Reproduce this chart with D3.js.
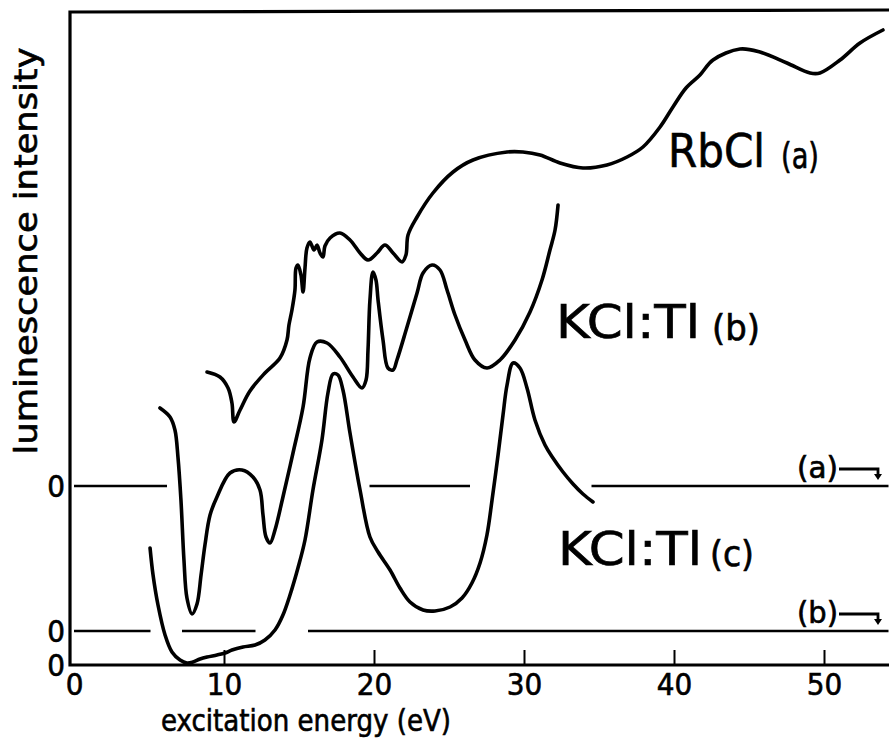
<!DOCTYPE html>
<html>
<head>
<meta charset="utf-8">
<script src="https://cdn.jsdelivr.net/npm/d3@7"></script>
<style>
  html, body { margin: 0; padding: 0; background: #fff; }
  svg text { font-family: "DejaVu Sans Condensed", "DejaVu Sans", sans-serif; fill: #000; stroke: #000; stroke-width: 0.6; }
</style>
</head>
<body>
<div id="chart"></div>
<script>
const width = 889;
const height = 738;

// excitation energy (eV) ticks
const xTicks = [0, 10, 20, 30, 40, 50];

// RbCl (a), intensity above its own zero line
const energyA = [8.87, 9.73, 10.27, 10.53, 10.67, 11.07, 11.73, 12.73, 13.73, 14.2, 14.33, 14.53, 14.73, 14.8, 14.93,
  15.13, 15.27, 15.4, 15.53, 15.73, 16.0, 16.2, 16.4, 16.6, 16.73, 17.07, 17.73, 18.4, 19.07, 19.6, 20.2, 20.73,
  21.27, 21.87, 22.13, 22.27, 22.87, 23.93, 25.27, 26.6, 28.87, 29.93, 31.07, 32.4, 33.93, 35.53, 36.87, 37.93,
  39.07, 39.93, 40.8, 41.73, 42.6, 44.4, 45.73, 47.53, 49.07, 49.73, 51.07, 52.4, 53.93];
const intensityA = [114, 109, 98, 83, 64, 76, 95, 113, 128, 146, 161, 176, 196, 218, 221,
  211, 194, 218, 238, 244, 236, 241, 233, 229, 240, 248, 253, 246, 233, 226, 233, 241,
  233, 224, 231, 251, 269, 293, 314, 326, 334, 334, 331, 323, 318, 321, 329, 339,
  359, 379, 398, 411, 426, 437, 434, 423, 413, 413, 426, 443, 456];

// KCl:Tl (b)
const energyB = [5.73, 6.4, 6.73, 6.93, 7.13, 7.33, 7.53, 7.87, 8.2, 8.47, 8.73, 9.07, 9.53, 10.4, 11.2, 11.93,
  12.4, 12.6, 12.8, 13.07, 13.4, 13.93, 14.6, 15.27, 15.73, 16.2, 16.87, 17.73, 18.6, 19.2, 19.47, 19.6, 19.73,
  19.93, 20.13, 20.27, 20.6, 20.93, 21.27, 21.53, 22.2, 22.87, 23.27, 23.87, 24.4, 24.87, 25.4, 26.07, 26.73,
  27.53, 28.4, 29.4, 30.4, 31.2, 31.73, 32.07, 32.27];
const intensityB = [223, 214, 201, 174, 131, 71, 33, 17, 27, 56, 86, 116, 134, 158, 161, 154,
  141, 116, 94, 88, 101, 134, 178, 224, 273, 289, 288, 274, 254, 243, 251, 281, 331,
  359, 351, 331, 291, 263, 261, 271, 304, 338, 358, 366, 361, 341, 316, 291, 271,
  263, 271, 291, 319, 351, 381, 401, 426];

// KCl:Tl (c)
const energyC = [5.07, 5.27, 5.6, 6.07, 6.53, 7.07, 7.53, 7.93, 8.4, 8.87, 9.53, 10.07, 10.53, 11.27, 12.07,
  12.73, 13.4, 13.93, 14.4, 14.93, 15.4, 15.93, 16.53, 16.93, 17.27, 17.6, 17.93, 18.4, 19.07, 19.73, 20.27,
  21.07, 21.73, 22.4, 23.27, 24.07, 25.07, 25.87, 26.53, 27.07, 27.53, 27.87, 28.27, 28.6, 28.87, 29.27, 29.73,
  30.2, 30.73, 31.4, 31.93, 32.6, 33.27, 33.93, 34.6];
const intensityC = [117, 90, 60, 30, 13, 5, 2, 3, 6, 8, 10, 12, 15, 18, 20,
  25, 35, 50, 70, 97, 125, 175, 225, 272, 291, 290, 275, 232, 175, 128, 113,
  95, 77, 63, 55, 54, 58, 67, 82, 102, 130, 165, 210, 250, 280, 302, 297,
  277, 245, 220, 207, 193, 181, 171, 163];

// zero levels of the three spectra, in the same intensity units
const zeroLevels = { a: 179, b: 34, c: 0 };

// visible pieces of the zero lines (energy ranges)
const zeroSegmentsA = [[0, 6.2], [19.7, 26.4], [34.5, 54.3]];
const zeroSegmentsB = [[0, 5.1], [7.2, 12.1], [15.6, 54.3]];

const svg = d3.select('#chart').append('svg')
  .attr('width', width)
  .attr('height', height);

const x = d3.scaleLinear().domain([0, 50]).range([74, 824]);
const y = d3.scaleLinear().domain([0, 652]).range([665, 13]);

const frameX = x(0) - 4;

// frame: left, top, bottom
svg.append('path')
  .attr('d', `M${frameX},${y(652)} L${frameX},${y(0)} L${width},${y(0)} M${frameX},${y(652) - 1} L${width},${y(652) - 3}`)
  .attr('fill', 'none')
  .attr('stroke', '#000')
  .attr('stroke-width', 3.2)
  .attr('stroke-linecap', 'square');

// bottom axis ticks and labels
const axis = svg.append('g')
  .attr('transform', `translate(0,${y(0)})`)
  .call(d3.axisBottom(x).tickValues(xTicks).tickSize(-15).tickFormat(d3.format('d')));
axis.select('.domain').remove();
axis.selectAll('.tick line').attr('stroke', '#000').attr('stroke-width', 2)
  .attr('opacity', d => d === 0 ? 0 : 1);
axis.selectAll('.tick text')
  .attr('font-size', 31)
  .attr('dy', 0)
  .attr('y', 30)
  .attr('font-family', '"DejaVu Sans Condensed", "DejaVu Sans", sans-serif');

// zero lines
function drawZero(segments, level) {
  svg.append('g').selectAll('line')
    .data(segments)
    .join('line')
    .attr('x1', d => x(d[0]))
    .attr('x2', d => Math.min(x(d[1]), width))
    .attr('y1', y(level))
    .attr('y2', y(level))
    .attr('stroke', '#000')
    .attr('stroke-width', 2.6);
}
drawZero(zeroSegmentsA, zeroLevels.a);
drawZero(zeroSegmentsB, zeroLevels.b);

// "0" labels on the left
const zeroLabels = [zeroLevels.a, zeroLevels.b, zeroLevels.c];
svg.append('g').selectAll('text')
  .data(zeroLabels)
  .join('text')
  .attr('x', frameX - 5)
  .attr('y', d => y(d) + 11)
  .attr('text-anchor', 'end')
  .attr('font-size', 31)
  .text('0');

// spectra
const line = d3.line()
  .x(d => x(d[0]))
  .y(d => y(d[1]))
  .curve(d3.curveCatmullRom.alpha(0.5));

const spectra = [
  { e: energyA, v: intensityA, zero: zeroLevels.a },
  { e: energyB, v: intensityB, zero: zeroLevels.b },
  { e: energyC, v: intensityC, zero: zeroLevels.c }
];

svg.append('g').selectAll('path')
  .data(spectra)
  .join('path')
  .attr('d', s => line(s.e.map((e, i) => [e, s.v[i] + s.zero])))
  .attr('fill', 'none')
  .attr('stroke', '#000')
  .attr('stroke-width', 3.6)
  .attr('stroke-linejoin', 'round')
  .attr('stroke-linecap', 'round');

// curve labels
function label(txt, px, py, size, len) {
  svg.append('text')
    .attr('x', px).attr('y', py)
    .attr('font-size', size)
    .attr('textLength', len)
    .attr('lengthAdjust', 'spacingAndGlyphs')
    .text(txt);
}
label('RbCl', 668, 167, 46, 97);
label('(a)', 781, 168, 36, 38);
label('KCl:Tl', 556, 338, 46, 144);
label('(b)', 712, 340, 36, 48);
label('KCl:Tl', 558, 565, 46, 144);
label('(c)', 710, 566, 36, 44);

// (a) and (b) markers on the right with hooked arrows
const markers = [
  { name: '(a)', level: zeroLevels.a },
  { name: '(b)', level: zeroLevels.b }
];
const mk = svg.append('g').selectAll('g')
  .data(markers)
  .join('g')
  .attr('transform', d => `translate(0,${y(d.level)})`);
mk.append('text')
  .attr('x', 797).attr('y', -8)
  .attr('font-size', 30)
  .attr('textLength', 41)
  .attr('lengthAdjust', 'spacingAndGlyphs')
  .text(d => d.name);
mk.append('path')
  .attr('d', 'M839,-17 H878 V-10')
  .attr('fill', 'none')
  .attr('stroke', '#000')
  .attr('stroke-width', 2.8);
mk.append('path')
  .attr('d', 'M874,-12 L882,-12 L878,-6 Z')
  .attr('fill', '#000');

// axis titles
svg.append('text')
  .attr('x', 306).attr('y', 731)
  .attr('text-anchor', 'middle')
  .attr('font-size', 31)
  .attr('textLength', 290)
  .attr('lengthAdjust', 'spacingAndGlyphs')
  .text('excitation energy (eV)');

svg.append('text')
  .attr('transform', 'translate(37,251) rotate(-90)')
  .attr('text-anchor', 'middle')
  .attr('font-size', 32)
  .attr('textLength', 407)
  .attr('lengthAdjust', 'spacingAndGlyphs')
  .text('luminescence intensity');
</script>
</body>
</html>
